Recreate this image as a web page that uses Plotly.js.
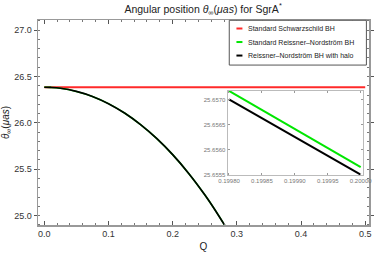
<!DOCTYPE html>
<html><head><meta charset="utf-8">
<script src="https://cdn.plot.ly/plotly-3.0.1.min.js"></script>
<style>html,body{margin:0;padding:0;background:#fff;}</style>
</head><body><div id="chart" style="width:374px;height:256px;"></div>
<script>
// Main panel data
const Q = [0, 0.01, 0.025, 0.05, 0.075, 0.1, 0.125, 0.15, 0.175, 0.2, 0.225, 0.25, 0.265, 0.28, 0.285];
const thetaRN   = [26.384, 26.382, 26.373, 26.339, 26.285, 26.207, 26.106, 25.981, 25.832, 25.657, 25.455, 25.225, 25.072, 24.908, 24.851];
const thetaHalo = [26.3838, 26.3818, 26.3728, 26.3388, 26.2848, 26.2068, 26.1058, 25.9808, 25.8318, 25.6568, 25.4548, 25.2248, 25.0718, 24.9078, 24.8508];
const Qs = [0, 0.5];
const thetaSchw = [26.384, 26.384];
// Inset data
const Qin = [0.1998, 0.2000];
const thetaRNin = [25.65717, 25.65565];
const thetaHaloIn = [25.65700, 25.65550];
// Legend
const legendLabels = ["Standard Schwarzschild BH", "Standard Reissner\u2013Nordstr\u00f6m BH", "Reissner\u2013Nordstr\u00f6m BH with halo"];
const legendColors = ["#ff2a2a", "#00e600", "#000000"];

const FONT = "Liberation Sans, Arial, sans-serif";

const traces = [
  {x: Qs, y: thetaSchw, mode: 'lines', line: {color: legendColors[0], width: 2}, xaxis: 'x', yaxis: 'y'},
  {x: Q, y: thetaRN, mode: 'lines', line: {color: legendColors[1], width: 1.6, shape: 'spline'}, xaxis: 'x', yaxis: 'y'},
  {x: Q, y: thetaHalo, mode: 'lines', line: {color: legendColors[2], width: 1.7, shape: 'spline'}, xaxis: 'x', yaxis: 'y'},
  {x: Qin, y: thetaRNin, mode: 'lines', line: {color: legendColors[1], width: 2}, xaxis: 'x2', yaxis: 'y2'},
  {x: Qin, y: thetaHaloIn, mode: 'lines', line: {color: legendColors[2], width: 2}, xaxis: 'x2', yaxis: 'y2'}
];

function px2x(p){ return (p - 37.7) / 331.6; }
function py2y(p){ return (224.7 - p) / 204.7; }

const shapes = [
  {type: 'rect', xref: 'paper', yref: 'paper', x0: px2x(229.3), x1: px2x(366.7), y0: py2y(65), y1: py2y(20.3),
   line: {color: '#555', width: 1}, fillcolor: '#fff', layer: 'above'}
];
const annotations = [];
const entryY = [28.5, 42, 55.5];
legendLabels.forEach((lab, i) => {
  shapes.push({type: 'line', xref: 'paper', yref: 'paper', x0: px2x(236.5), x1: px2x(242.5), y0: py2y(entryY[i]), y1: py2y(entryY[i]),
    line: {color: legendColors[i], width: 2}, layer: 'above'});
  annotations.push({xref: 'paper', yref: 'paper', x: px2x(246.5), y: py2y(entryY[i]), xanchor: 'left', yanchor: 'middle',
    text: lab, showarrow: false, font: {family: FONT, size: 7, color: '#222'}});
});

const layout = {
  width: 374, height: 256,
  margin: {l: 38, r: 5, t: 20, b: 31},
  paper_bgcolor: '#fff', plot_bgcolor: '#fff',
  showlegend: false,
  font: {family: FONT, color: '#333'},
  title: {text: 'Angular position <i>\u03b8</i><sub>\u221e</sub>(<i>\u03bcas</i>) for SgrA<sup>*</sup>',
          font: {family: FONT, size: 10.5, color: '#222'}, x: 0.543, xanchor: 'center', y: 0.965, yanchor: 'middle', yref: 'container'},
  xaxis: {
    domain: [0, 1], range: [-0.0098, 0.5059], dtick: 0.1, tick0: 0, tickformat: '.1f',
    showgrid: false, zeroline: false, showline: true, mirror: 'ticks', linecolor: '#999', linewidth: 1.5,
    ticks: 'inside', ticklen: 4, tickcolor: '#555', tickwidth: 1,
    minor: {dtick: 0.02, ticks: 'inside', ticklen: 2, tickcolor: '#777'},
    tickfont: {family: FONT, size: 9, color: '#333'},
    title: {text: 'Q', font: {family: FONT, size: 10, color: '#222'}, standoff: 4}
  },
  yaxis: {
    domain: [0, 1], range: [24.8985, 27.109], dtick: 0.5, tick0: 25, tickformat: '.1f',
    showgrid: false, zeroline: false, showline: true, mirror: 'ticks', linecolor: '#999', linewidth: 1.5,
    ticks: 'outside', ticklen: 3, tickcolor: '#555', tickwidth: 1,
    minor: {dtick: 0.1, ticks: 'inside', ticklen: 2, tickcolor: '#777'},
    tickfont: {family: FONT, size: 9, color: '#333'},
    title: {text: '<i>\u03b8</i><sub>\u221e</sub>(<i>\u03bcas</i>)', font: {family: FONT, size: 10, color: '#222'}, standoff: 3}
  },
  xaxis2: {
    domain: [px2x(227.7), px2x(363.3)], anchor: 'y2', range: [0.199798, 0.2000035],
    tickvals: [0.19980, 0.19985, 0.19990, 0.19995, 0.20000], tickformat: '.5f',
    showgrid: false, zeroline: false, showline: true, mirror: 'ticks', linecolor: '#bbb', linewidth: 1,
    ticks: 'inside', ticklen: 2, tickcolor: '#999',
    tickfont: {family: FONT, size: 6, color: '#777'}
  },
  yaxis2: {
    domain: [py2y(175), py2y(90.7)], anchor: 'x2', range: [25.655486, 25.657172],
    tickvals: [25.6555, 25.6560, 25.6565, 25.6570], tickformat: '.4f',
    showgrid: false, zeroline: false, showline: true, mirror: 'ticks', linecolor: '#bbb', linewidth: 1,
    ticks: 'inside', ticklen: 2, tickcolor: '#999',
    tickfont: {family: FONT, size: 6, color: '#777'}
  },
  shapes: shapes,
  annotations: annotations
};

Plotly.newPlot('chart', traces, layout, {displayModeBar: false, staticPlot: true});
</script>
</body></html>
